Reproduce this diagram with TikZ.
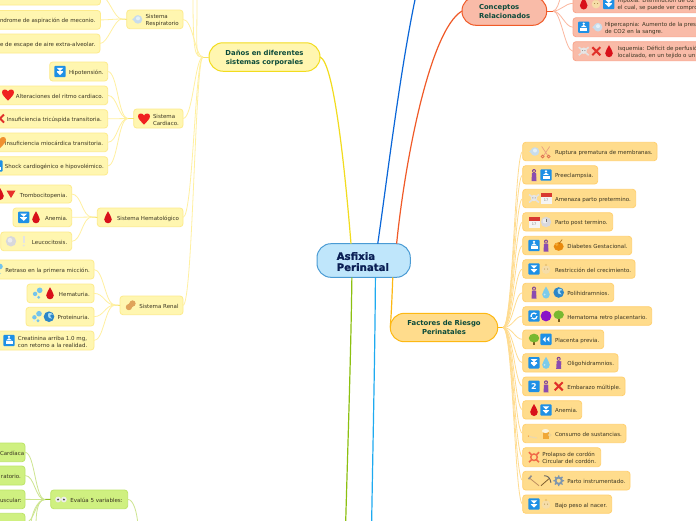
\documentclass[tikz,border=0pt]{standalone}
\usepackage{fontspec}
\setmainfont{DejaVu Sans}
\newfontfamily\heavyfont[UprightFont=* Bold,FakeBold=1]{DejaVu Sans}
\definecolor{yfill}{HTML}{FFF6B0}\definecolor{ybord}{HTML}{FDEB8C}\definecolor{yline}{HTML}{FFF0A0}\definecolor{ystub}{HTML}{F8E468}
\definecolor{ofill}{HTML}{FFDC8C}\definecolor{obord}{HTML}{FFD070}\definecolor{oline}{HTML}{FFDC90}\definecolor{ostub}{HTML}{FDB813}
\definecolor{gfill}{HTML}{CFF080}\definecolor{gbord}{HTML}{BDE568}\definecolor{gline}{HTML}{CDE590}\definecolor{gstub}{HTML}{90C020}
\definecolor{sfill}{HTML}{F9BBA8}\definecolor{sbord}{HTML}{F8A58C}\definecolor{sline}{HTML}{FBB8A0}\definecolor{sstub}{HTML}{F05A28}
\definecolor{ink}{HTML}{3A3522}\definecolor{maink}{HTML}{0B4A3A}\definecolor{bluebox}{HTML}{1E90E6}\definecolor{redd}{HTML}{D8101A}
\definecolor{HTMLyb}{HTML}{F2DC1E}\definecolor{HTMLred}{HTML}{F02020}\definecolor{HTMLorg}{HTML}{F09030}
\definecolor{cfill}{HTML}{BFE6FB}\definecolor{cbord}{HTML}{4A9BD4}\definecolor{cink}{HTML}{0A1F55}
\newcommand\leafdrop{1.5pt}
\newcommand\dropshape{(0,-6) .. controls (1,-3) and (3.8,-1) .. (3.8,2) .. controls (3.8,4.5) and (1.8,6) .. (0,6) .. controls (-1.8,6) and (-3.8,4.5) .. (-3.8,2) .. controls (-3.8,-1) and (-1,-3) .. cycle}
\newcommand\boxshape{\fill[bluebox,rounded corners=1] (-5.7,-5.7) rectangle (5.7,5.7);}
\tikzset{
 HTML/.code={\definecolor{tmpc}{HTML}{#1}\pgfkeysalso{color=tmpc}},
 box/.style={draw,line width=0.8pt,rounded corners=3pt,inner sep=0pt,outer sep=0pt,anchor=west,text=ink,font=\fontsize{5.5}{7}\selectfont},
 yleaf/.style={box,fill=yfill,draw=ybord},
 oleaf/.style={box,fill=ofill,draw=obord},
 gleaf/.style={box,fill=gfill,draw=gbord},
 sleaf/.style={box,fill=sfill,draw=sbord},
 big/.style={box,rounded corners=14pt,text=maink,line width=1pt,font=\fontsize{6.85}{9}\selectfont\bfseries},
 central/.style={big,fill=cfill,draw=cbord,text=cink,font=\fontsize{10.2}{11}\selectfont\heavyfont\def\leafdrop{2.6pt}},
 yl/.style={draw=yline,line width=0.8pt},
 ol/.style={draw=oline,line width=0.8pt},
 gl/.style={draw=gline,line width=0.8pt},
 sl/.style={draw=sline,line width=0.8pt},
 pics/icdown/.style={code={\boxshape\fill[white] (-3.3,-3.6) -- (3.3,-3.6) -- (0,-0.4) -- cycle (-3.3,0.4) -- (3.3,0.4) -- (0,3.6) -- cycle;\fill[white] (-3.3,-0.5) rectangle (3.3,0.2);}},
 pics/icup/.style={code={\boxshape\fill[white] (0,-3.6) circle (1.3);\fill[white] (-2.8,-0.2) -- (2.8,-0.2) -- (0,-2.4) -- cycle;\fill[white] (-3.5,0.7) rectangle (3.5,3.5);}},
 pics/icrew/.style={code={\boxshape\fill[white] (-0.4,-2.8) -- (-0.4,2.8) -- (-3.2,0) -- cycle (3.4,-2.8) -- (3.4,2.8) -- (0.6,0) -- cycle;}},
 pics/icrefresh/.style={code={\boxshape\draw[white,line width=1.2pt] (0,0) circle (3);\fill[bluebox] (2,-2) rectangle (4.5,-0.5);\fill[bluebox] (-4.5,0.5) rectangle (-2,2);}},
 pics/ictwo/.style={code={\boxshape\node[text=white,font=\fontsize{8}{8}\selectfont\bfseries,inner sep=0pt] (two) at (0,0) {2};}},
 pics/icdrop/.style={code={\fill[redd] \dropshape;}},
 pics/icwater/.style={code={\fill[HTML=7CCBEA] \dropshape;\fill[white,opacity=.5] (-1.5,2) circle (1);}},
 pics/icheart/.style={code={\fill[#1] (0,6) .. controls (-3,3) and (-6,0.5) .. (-6,-2.3) .. controls (-6,-5.5) and (-1.5,-6) .. (0,-3) .. controls (1.5,-6) and (6,-5.5) .. (6,-2.3) .. controls (6,0.5) and (3,3) .. (0,6) -- cycle;}},
 pics/ictri/.style={code={\fill[HTML=E8302A] (-4.5,-3.5) -- (4.5,-3.5) -- (0,4) -- cycle;}},
 pics/icx/.style={code={\draw[HTML=E0302A,line width=2pt] (-4,-4) -- (4,4) (-4,4) -- (4,-4);}},
 pics/iclung/.style={code={\fill[HTML=C8DCEC] (1,0) circle (4.3);\fill[HTML=C8DCEC] (-4.8,0) -- (0,-4) -- (0,4) -- cycle;\fill[HTML=E4F0F8] (1,-1) circle (2);}},
 pics/icwoman/.style={code={\fill[HTML=7A3E98] (0,-4) circle (2);\fill[HTML=E8B888] (0,-3.8) circle (1.2);\fill[HTML=8A4CB0] (-2,-1.8) -- (2,-1.8) -- (2.5,6) -- (-2.5,6) -- cycle;\fill[HTML=E8B888] (2.4,-1.4) rectangle (3.2,2);}},
 pics/icface/.style={code={\fill[HTML=F6DDA8] (0,0.6) circle (4.3);\fill[HTML=E8C070] (0,-4) circle (1.2);\fill[HTML=A08040] (-1.5,0) circle (0.5) (1.5,0) circle (0.5);}},
 pics/icskull/.style={code={\draw[HTML=E2E2E2,line width=1.6pt] (-5,-4) -- (5,4) (-5,4) -- (5,-4);\fill[HTML=E6E6E6] (0,-0.5) circle (3.2);\fill[HTML=909090] (-1.2,-0.6) circle (0.6) (1.2,-0.6) circle (0.6);}},
 pics/iccal/.style={code={\fill[HTML=F4F4F4] (-5.5,-5) rectangle (5.5,5.5);\fill[HTML=D83830] (-5.5,-5.5) rectangle (5.5,-1.5);\node[text=gray,font=\fontsize{3.5}{4}\selectfont,inner sep=0pt] (calnum) at (0,2) {17};}},
 pics/icball/.style={code={\fill[HTML=D8D8DC] (0,0) circle (5.2);\fill[HTML=ECECEE] (-1,-1) circle (2.4);}},
 pics/icclock/.style={code={\fill[HTML=D8D8DC] (0,0) circle (5.2);\fill[HTML=ECECEE] (-1,-1) circle (2.4);\draw[HTML=707070,line width=.5pt] (0,0) -- (0,-3);}},
 pics/icexcl/.style={code={\fill[HTML=E4E4E4] (-1,-5) rectangle (1,2);\fill[HTML=E4E4E4] (0,4.2) circle (1.1);}},
 pics/ichoney/.style={code={\fill[HTML=E8890C] (0,1) ellipse (5 and 4.3);\fill[HTML=F4A830] (-2,-1) circle (1.6);\draw[HTML=A06010,line width=.6pt] (0.5,-2) -- (3.5,-6);}},
 pics/icwave/.style={code={\fill[HTML=2C86C8] (0,0) circle (5.3);\fill[HTML=A8DCF0] (-1,-1) .. controls (-2,-4) and (2,-5) .. (4,-2) .. controls (1,-3) and (0,-1) .. (3,2) .. controls (0,2) and (-1,1) .. (-1,-1);}},
 pics/icpurple/.style={code={\fill[HTML=8A14C8] (0,0) circle (5.4);}},
 pics/ictree/.style={code={\fill[HTML=7A5A20] (-0.9,1) rectangle (0.9,6);\fill[HTML=78B830] (0,-1.2) ellipse (5.2 and 4.4);}},
 pics/icdrops/.style={code={\fill[HTML=74C4EC] (2,-3) circle (2.8);\fill[HTML=74C4EC] (-2.6,0.6) circle (2.2);\fill[HTML=74C4EC] (1,4) circle (1.6);\fill[HTML=D8F0FA] (-3,4) circle (1.1);}},
 pics/icpeanut/.style={code={\fill[HTML=DFA35A,rotate=45] (-2.6,0) circle (3.1) (2.6,0) circle (3.1);\fill[HTML=DFA35A,rotate=45] (-2.6,-2.4) rectangle (2.6,2.4);}},
 pics/iceyes/.style={code={\fill[HTML=EEEEEE] (-2.9,0) circle (2.9) (2.9,0) circle (2.9);\fill[black!70] (-2.9,0) circle (1.1) (2.9,0) circle (1.1);}},
 pics/icscissors/.style={code={\draw[HTML=E8A080,line width=.7pt] (-4,-5) -- (2,4) (4,-5) -- (-2,4);\draw[HTML=E07050,line width=.8pt] (-3,5) circle (1.4) (3,5) circle (1.4);}},
 pics/iccig/.style={code={\draw[HTML=EAD8B0,line width=1.1pt] (-5,3) -- (3,4.5);\fill[HTML=F0A040] (-5.5,2.6) circle (.7);}},
 pics/icbeer/.style={code={\fill[HTML=F0A838] (-3.5,-2) rectangle (2.5,5);\fill[HTML=FAF4E0] (-0.5,-2.5) ellipse (3.6 and 2);\draw[HTML=E8D098,line width=.6pt] (3.7,1.5) circle (1.5);}},
 pics/icbuoy/.style={code={\draw[HTML=F06A48,line width=1.4pt] (0,0) circle (3.3);\draw[HTML=F06A48,line width=1.6pt] (-5,-5) -- (-2,-2) (5,-5) -- (2,-2) (-5,5) -- (-2,2) (5,5) -- (2,2);}},
 pics/ichammer/.style={code={\draw[HTML=C09060,line width=.8pt] (-5,-3) -- (5,5);\draw[HTML=909090,line width=1.6pt] (-5.5,-1.5) -- (-2.5,-5);}},
 pics/icpick/.style={code={\draw[HTML=806030,line width=.8pt] (-5,5) -- (3,-2);\draw[HTML=606060,line width=.9pt] (-2,-5) .. controls (2,-5) and (4,-3) .. (5,2);}},
 pics/icgear/.style={code={\draw[HTML=7E96AE,line width=2pt] (0,0) circle (3.2);\draw[HTML=7E96AE,line width=1.3pt] (-5.3,0) -- (-3.5,0) (5.3,0) -- (3.5,0) (0,-5.3) -- (0,-3.5) (0,5.3) -- (0,3.5) (-3.8,-3.8) -- (-2.6,-2.6) (3.8,3.8) -- (2.6,2.6) (3.8,-3.8) -- (2.6,-2.6) (-3.8,3.8) -- (-2.6,2.6);}},
}
\newcommand\leaf[8]{%
 \pgfmathsetmacro\lw{#4-#3}\pgfmathsetmacro\lh{#6-#5}\pgfmathsetmacro\lc{(#5+#6)/2}\pgfmathsetmacro\lp{#7-#3}%
 \node[#1,minimum width=\lw pt,minimum height=\lh pt] (#2) at (#3,\lc) {\makebox[\lw pt][l]{\hspace*{\lp pt}\raisebox{\dimexpr-0.25em-\leafdrop\relax}[0pt][0pt]{\begin{tabular}{@{}l@{}}#8\end{tabular}}}};}
\begin{document}
\begin{tikzpicture}[x=1pt,y=-1pt]
\path[use as bounding box] (0,0) rectangle (696,520);
\clip (0,0) rectangle (696,520);
\fill[white] (0,0) rectangle (696,520);
% free ends
\coordinate (endB) at (416,-5);
\coordinate (endG) at (345.6,525);
\coordinate (endS) at (371.6,525);
\coordinate (topA) at (193,-5);
\coordinate (topB) at (197,-5);
\coordinate (endE) at (138,525);
\coordinate (botA) at (31,525);
\coordinate (botB) at (36,525);
\coordinate (topC) at (561,-4);
% stubs
\coordinate (danL) at (203,57);
\coordinate (resL) at (122,19);
\coordinate (carL) at (128,118.5);
\coordinate (hemL) at (92,217);
\coordinate (renL) at (115,305);
\coordinate (evaL) at (45,499.5);
\coordinate (conR) at (553,11);
\coordinate (facR) at (503,327.5);
% leaves: yellow
\leaf{yleaf}{y0}{-10}{100.5}{-14}{5}{0}{}
\leaf{yleaf}{y1}{-10}{100.5}{10.5}{29.3}{0}{ndrome de aspiración de meconio.}
\leaf{yleaf}{y2}{-10}{100}{34}{53}{0}{e de escape de aire extra-alveolar.}
\leaf{yleaf}{sr}{126.7}{183}{10}{28.7}{145.7}{Sistema\\Respiratorio}
\leaf{yleaf}{y3}{49.7}{107.7}{62}{81}{69}{Hipotensión.}
\leaf{yleaf}{y4}{-10}{107.7}{86}{104.7}{16}{Alteraciones del ritmo cardiaco.}
\leaf{yleaf}{y5}{-10}{107.7}{109.7}{128}{6.7}{Insuficiencia tricúspida transitoria.}
\leaf{yleaf}{y6}{-10}{107.7}{133}{151.7}{5}{Insuficiencia miocárdica transitoria.}
\leaf{yleaf}{y7}{-10}{107.7}{156.7}{175}{5}{Shock cardiogénico e hipovolémico.}
\leaf{yleaf}{sc}{133.7}{183}{109}{128}{153}{Sistema\\Cardiaco.}
\leaf{yleaf}{y8}{-10}{71.7}{185}{203}{20}{Trombocitopenia.}
\leaf{yleaf}{y9}{13}{71.7}{208}{226.7}{45}{Anemia.}
\leaf{yleaf}{y10}{0.7}{71.7}{232}{250.7}{32}{Leucocitosis.}
\leaf{yleaf}{sh}{97.3}{183}{208}{226.7}{117}{Sistema Hematológico}
\leaf{yleaf}{y11}{-10}{94}{260}{279}{5.3}{Retraso en la primera micción.}
\leaf{yleaf}{y12}{27}{94}{284}{302.7}{59}{Hematuria.}
\leaf{yleaf}{y13}{26}{94}{307.3}{326}{57.7}{Proteinuria.}
\leaf{yleaf}{y14}{-10}{94}{331}{350}{18}{Creatinina arriba 1.0 mg,\\con retorno a la realidad.}
\leaf{yleaf}{sn}{120}{183}{296}{314.7}{139.3}{Sistema Renal}
% green
\leaf{gleaf}{g1}{-10}{25}{443}{461.7}{0}{Cardíaca}
\leaf{gleaf}{g2}{-10}{25}{466}{485}{1}{ratorio.}
\leaf{gleaf}{g3}{-10}{25}{490}{508.7}{0}{uscular:}
\leaf{gleaf}{g4}{-10}{25}{513.3}{532}{0}{}
\leaf{gleaf}{ev}{50.7}{127.7}{490}{508.7}{70.3}{Evalúa 5 variables:}
% salmon
\leaf{sleaf}{s1}{573}{730}{-6}{12.7}{617.7}{Hipoxia: Disminución de O2\\el cual, se puede ver compro}
\leaf{sleaf}{s2}{573}{730}{17.7}{36.7}{605}{Hipercapnia: Aumento de la pres\\de CO2 en la sangre.}
\leaf{sleaf}{s3}{573}{730}{41.7}{60.7}{617.7}{Isquemia: Déficit de perfusió\\localizado, en un tejido o un}
% orange
\leaf{oleaf}{o1}{522.7}{657}{142.3}{160.7}{555}{Ruptura prematura de membranas.}
\leaf{oleaf}{o2}{522.7}{597.7}{165.7}{184}{555}{Preeclampsia.}
\leaf{oleaf}{o3}{522.7}{635.7}{189.3}{207.7}{555}{Amenaza parto pretermino.}
\leaf{oleaf}{o4}{522.7}{612.7}{212.7}{231}{555}{Parto post termino.}
\leaf{oleaf}{o5}{522.7}{631.7}{236.3}{254.7}{567.3}{Diabetes Gestacional.}
\leaf{oleaf}{o6}{522.7}{635}{259.7}{278.3}{555}{Restricción del crecimiento.}
\leaf{oleaf}{o7}{522.7}{613.7}{283.3}{301.7}{567.3}{Polihidramnios.}
\leaf{oleaf}{o8}{522.7}{651.7}{306.7}{325.3}{567.3}{Hematoma retro placentario.}
\leaf{oleaf}{o9}{522.7}{603.7}{330}{348.7}{555}{Placenta previa.}
\leaf{oleaf}{o10}{522.7}{618}{353.7}{372}{567.3}{Oligohidramnios.}
\leaf{oleaf}{o11}{522.7}{625}{377}{395.7}{567.3}{Embarazo múltiple.}
\leaf{oleaf}{o12}{522.7}{581.7}{400.7}{419}{555}{Anemia.}
\leaf{oleaf}{o13}{522.7}{626}{424.3}{442.7}{555}{Consumo de sustancias.}
\leaf{oleaf}{o14}{522.7}{600.7}{447.7}{466.7}{542.3}{Prolapso de cordón\\Circular del cordón.}
\leaf{oleaf}{o15}{522.7}{630}{471.3}{490}{567.3}{Parto instrumentado.}
\leaf{oleaf}{o16}{522.7}{611.7}{495}{513.3}{555}{Bajo peso al nacer.}
% main topics
\node[big,fill=yfill,draw=HTMLyb,anchor=center,minimum width=111pt,minimum height=28.5pt] (dan) at (264.5,57) {\raisebox{\dimexpr-0.25em-1pt\relax}[0pt][0pt]{\begin{tabular}{@{}c@{}}Daños en diferentes\\sistemas corporales\end{tabular}}};
\node[big,fill=ofill,draw=ostub,align=center,anchor=center,minimum width=107.4pt,minimum height=28.4pt] (fac) at (444,327.5) {Factores de Riesgo\\Perinatales};
\leaf{big,fill=sfill,draw=sstub}{con}{462}{546.7}{-3.3}{25.3}{479}{Conceptos\\Relacionados}
\leaf{central}{asf}{317}{410.3}{243.7}{277.3}{336.7}{Asfixia\\Perinatal}
% connectors: central
\draw[HTMLyb,line width=1.2pt] (dan.east) .. controls (334,62) and (345,170) .. (asf.127.2);
\draw[HTML=0A66D8,line width=1.2pt] (asf.50) .. controls (387,180) and (400,70) .. (endB);
\draw[sstub,line width=1.2pt] (asf.27.6) .. controls (405,160) and (430,30) .. (con.west);
\draw[HTML=FDB813,line width=1.2pt] (asf.-30) .. controls (392,300) and (391,318) .. (fac.west);
\draw[HTML=8CC010,line width=1.2pt] (asf.235.4) .. controls (351,350) and (348,440) .. (endG);
\draw[HTML=1EAAF0,line width=1.2pt] (asf.-55) .. controls (375,350) and (373,440) .. (endS);
% stubs
\draw[ystub,line width=1pt] (dan.west) -- (danL);
\draw[ystub,line width=1pt] (sr.west) -- (resL);
\draw[ystub,line width=1pt] (sc.west) -- (carL);
\draw[ystub,line width=1pt] (sh.west) -- (hemL);
\draw[ystub,line width=1pt] (sn.west) -- (renL);
\draw[gstub,line width=1pt] (ev.west) -- (evaL);
\draw[sstub,line width=1pt] (con.east) -- (conR);
\draw[ostub,line width=1pt] (fac.east) -- (facR);
% branches
\foreach \n in {sr,sc,sh,sn} \draw[yl] (danL) .. controls +(-8,0) and +(10,0) .. (\n.east);
\foreach \n in {topA,topB} \draw[yl] (danL) .. controls +(-8,0) and +(0,60) .. (\n);
\foreach \n in {y0,y1,y2} \draw[yl] (resL) .. controls +(-8,0) and +(8,0) .. (\n.east);
\foreach \n in {y3,y4,y5,y6,y7} \draw[yl] (carL) .. controls +(-10,0) and +(10,0) .. (\n.east);
\foreach \n in {y8,y9,y10} \draw[yl] (hemL) .. controls +(-10,0) and +(10,0) .. (\n.east);
\foreach \n in {y11,y12,y13,y14} \draw[yl] (renL) .. controls +(-10,0) and +(10,0) .. (\n.east);
\foreach \n in {g1,g2,g3,g4} \draw[gl] (evaL) .. controls +(-10,0) and +(10,0) .. (\n.east);
\foreach \n in {botA,botB} \draw[gl] (evaL) .. controls +(-8,0) and +(0,-10) .. (\n);
\draw[gl] (ev.east) .. controls +(6,0) and +(-1,-12) .. (endE);
\foreach \n in {s1,s2,s3} \draw[sl] (conR) .. controls +(8,0) and +(-8,0) .. (\n.west);
\draw[sl] (conR) .. controls +(4,0) and +(-2,6) .. (topC);
\foreach \n in {o1,o2,o3,o4,o5,o6,o7,o8,o9,o10,o11,o12,o13,o14,o15,o16} \draw[ol] (facR) .. controls +(10,0) and +(-8,0) .. (\n.west);
% icons
\pic at (137,19.4) {iclung};
\pic at (60,71.5) {icdown};
\pic at (8,94.5) {icheart=HTMLred};
\pic at (0,118.5) {icx};
\pic at (0,142) {icheart=HTMLorg};
\pic at (-3,166) {icup};
\pic at (144,118.5) {icheart=HTMLred};
\pic at (0,194) {icdrop};
\pic at (11,194) {ictri};
\pic at (23.7,217.3) {icdown};
\pic at (36,217.3) {icdrop};
\pic at (11,241.3) {icball};
\pic at (23.7,241.3) {icexcl};
\pic at (108,217.3) {icdrop};
\pic at (-2,269.5) {icdrops};
\pic at (37.7,293.3) {icdrops};
\pic at (50,293.3) {icdrop};
\pic at (37,316.7) {icdrops};
\pic at (49,316.7) {icwave};
\pic at (9,340.5) {icup};
\pic at (130.7,305.3) {icpeanut};
\pic at (61,499.5) {iceyes};
\pic at (583.7,3.5) {icdrop};
\pic at (596,3.5) {icface};
\pic at (608.7,3.5) {icdown};
\pic at (583.7,27.2) {icup};
\pic at (597,27.2) {iclung};
\pic at (583.7,51.2) {icskull};
\pic at (596.3,51.2) {icx};
\pic at (609,51.2) {icdrop};
\pic at (534,151.5) {iclung};
\pic at (545.7,151.5) {icscissors};
\pic at (534,175) {icwoman};
\pic at (546,175) {icup};
\pic at (534,198.5) {icskull};
\pic at (546,198.5) {iccal};
\pic at (534,222) {iccal};
\pic at (546,222) {icclock};
\pic at (534,245.5) {icup};
\pic at (546,245.5) {icwoman};
\pic at (558.7,245.5) {ichoney};
\pic at (534,269) {icdown};
\pic at (546,269) {icface};
\pic at (534,292.5) {icwoman};
\pic at (546,292.5) {icwater};
\pic at (558.7,292.5) {icwave};
\pic at (534,316) {icrefresh};
\pic at (546,316) {icpurple};
\pic at (558.7,316) {ictree};
\pic at (534,339.3) {ictree};
\pic at (546,339.3) {icrew};
\pic at (534,362.8) {icdown};
\pic at (546,362.8) {icwater};
\pic at (558.7,362.8) {icwoman};
\pic at (534,386.3) {ictwo};
\pic at (546,386.3) {icwoman};
\pic at (558.7,386.3) {icx};
\pic at (534,410) {icdrop};
\pic at (546,410) {icdown};
\pic at (534,433.5) {iccig};
\pic at (546,433.5) {icbeer};
\pic at (534,457.2) {icbuoy};
\pic at (534,480.7) {ichammer};
\pic at (546,480.7) {icpick};
\pic at (558.7,480.7) {icgear};
\pic at (534,504) {icdown};
\pic at (546,504) {icface};
\end{tikzpicture}
\end{document}
